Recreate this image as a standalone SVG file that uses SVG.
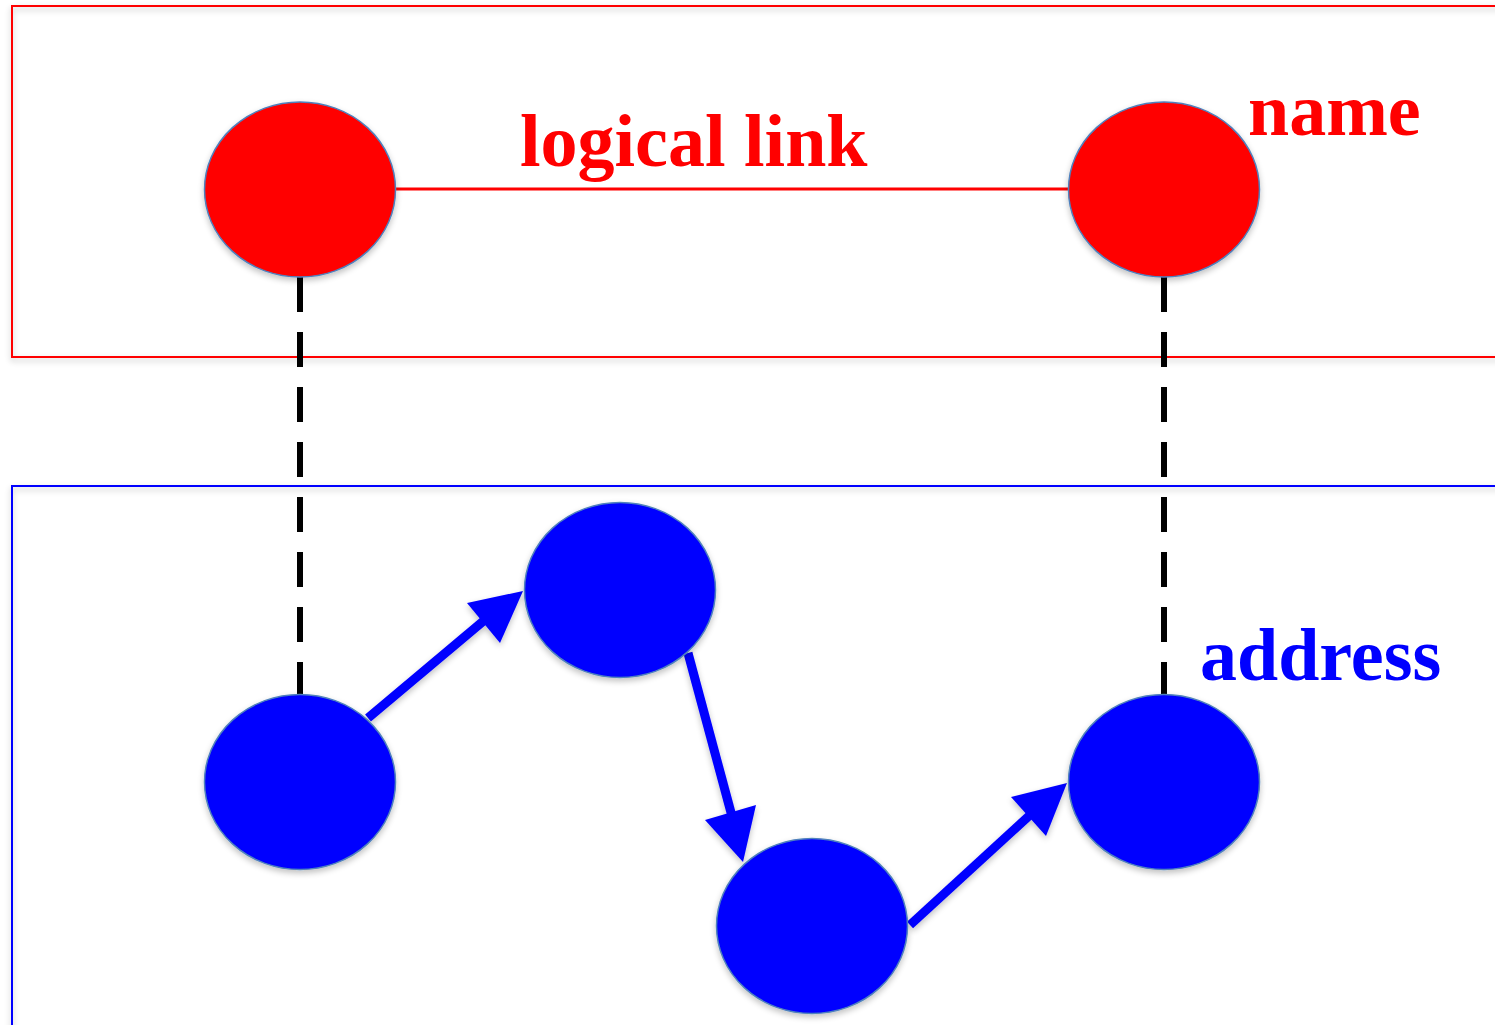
<svg xmlns="http://www.w3.org/2000/svg" width="1495" height="1025" viewBox="0 0 1495 1025">
<style>
.lbl{font-family:"Liberation Serif","Times New Roman",serif;font-weight:bold;font-size:74px}
.rn{fill:#ff0000;stroke:#4f81bd;stroke-width:1.5}
.bn{fill:#0000ff;stroke:#4f81bd;stroke-width:1.5}
.dash{stroke:#000;stroke-width:6;stroke-dasharray:35 20;fill:none}
.shaft{stroke:#0000ff;stroke-width:9;fill:none}
.head{fill:#0000ff}
</style>
<defs>
<filter id="sh" x="-10%" y="-10%" width="120%" height="130%">
<feGaussianBlur in="SourceAlpha" stdDeviation="3"/>
<feOffset dx="0" dy="3" result="b"/>
<feComponentTransfer><feFuncA type="linear" slope="0.25"/></feComponentTransfer>
<feMerge><feMergeNode/><feMergeNode in="SourceGraphic"/></feMerge>
</filter>
</defs>
<rect width="1495" height="1025" fill="#fff"/>
<g id="name-layer">
<rect x="12" y="6" width="1500" height="351" fill="none" stroke="#ff0000" stroke-width="2" filter="url(#sh)"/>
</g>
<g id="address-layer">
<rect x="12" y="486" width="1500" height="560" fill="none" stroke="#0000ff" stroke-width="2" filter="url(#sh)"/>
</g>
<g id="connectors">
<line x1="396" y1="189" x2="1068" y2="189" stroke="#ff0000" stroke-width="3"/>
<line class="dash" x1="300" y1="277" x2="300" y2="695"/>
<line class="dash" x1="1164" y1="277" x2="1164" y2="695"/>
<g filter="url(#sh)">
<line class="shaft" x1="368" y1="718" x2="487" y2="618"/>
<polygon class="head" points="523,591 467,603 500,643"/>
<line class="shaft" x1="688" y1="653" x2="733" y2="820"/>
<polygon class="head" points="743,862 705,820 756,805"/>
<line class="shaft" x1="910" y1="925" x2="1030" y2="815"/>
<polygon class="head" points="1067,783 1011,797 1046,836"/>
</g>
</g>
<g id="n1" filter="url(#sh)"><ellipse class="rn" cx="300" cy="189.5" rx="95.5" ry="87.5"/></g>
<g id="n2" filter="url(#sh)"><ellipse class="rn" cx="1164" cy="189.5" rx="95.5" ry="87.5"/></g>
<g id="b1" filter="url(#sh)"><ellipse class="bn" cx="300" cy="782" rx="95.5" ry="87.5"/></g>
<g id="b2" filter="url(#sh)"><ellipse class="bn" cx="620" cy="590" rx="95.5" ry="87.5"/></g>
<g id="b3" filter="url(#sh)"><ellipse class="bn" cx="812" cy="926" rx="95.5" ry="87.5"/></g>
<g id="b4" filter="url(#sh)"><ellipse class="bn" cx="1164" cy="782" rx="95.5" ry="87.5"/></g>
<g id="labels">
<text class="lbl" x="520" y="166" fill="#ff0000">logical link</text>
<text class="lbl" x="1248" y="135" fill="#ff0000">name</text>
<text class="lbl" x="1200" y="680" fill="#0000ff">address</text>
</g>
</svg>
